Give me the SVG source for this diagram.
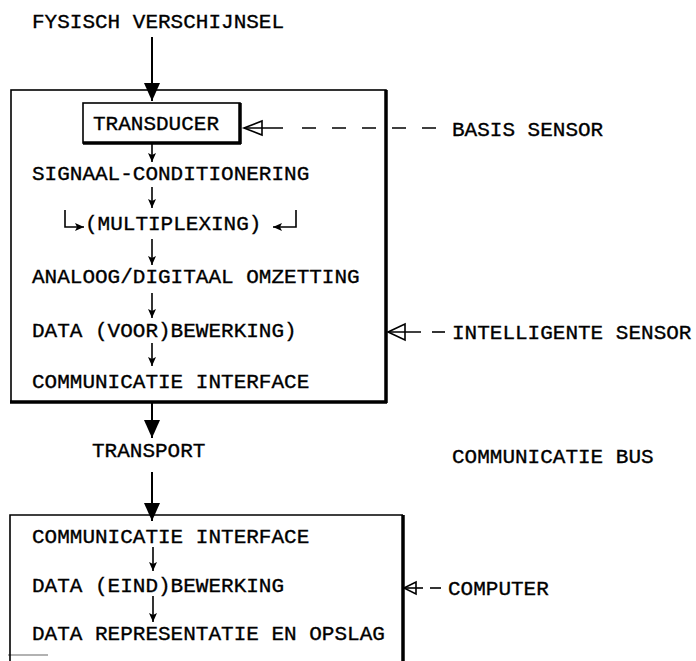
<svg xmlns="http://www.w3.org/2000/svg" width="696" height="661" viewBox="0 0 696 661">
<style>
text{font-family:"Liberation Mono","Courier New",monospace;font-size:21px;fill:#000;stroke:#000;stroke-width:0.35}
.ln{stroke:#000;stroke-width:1.6;fill:none}
.big{stroke:#000;stroke-width:2;fill:none}
.thick{stroke:#000;stroke-width:3.5;fill:none}
.dash{stroke:#000;stroke-width:1.6;fill:none;stroke-dasharray:14 16}
.hollow{stroke:#000;stroke-width:1.6;fill:none}
</style>
<defs>
<marker id="bigHead" markerUnits="userSpaceOnUse" markerWidth="18" markerHeight="16" viewBox="0 0 18 16" refX="18" refY="8" orient="auto">
<path d="M0,0 L18,8 L0,16 z" fill="#000"/>
</marker>
<marker id="smallHead" markerUnits="userSpaceOnUse" markerWidth="9" markerHeight="8" viewBox="0 0 9 8" refX="9" refY="4" orient="auto">
<path d="M0,0 L9,4 L0,8 L2,4 z" fill="#000"/>
</marker>
</defs>
<rect width="696" height="661" fill="#fff"/>

<g id="fysisch"><text x="32" y="28">FYSISCH VERSCHIJNSEL</text></g>

<g id="sensor-box">
<rect x="11" y="90" width="375" height="312" class="ln"/>
<path d="M386,90 V403 M10,402 H387" class="thick"/>
</g>

<g id="transducer">
<rect x="83" y="103" width="157" height="40" class="ln"/>
<path d="M240,103 V144 M83,143 H241" class="thick"/>
<text x="93" y="130">TRANSDUCER</text>
</g>

<g id="signaal"><text x="32" y="180">SIGNAAL-CONDITIONERING</text></g>
<g id="multiplexing"><text x="85" y="230">(MULTIPLEXING)</text></g>
<g id="analoog"><text x="32" y="283">ANALOOG/DIGITAAL OMZETTING</text></g>
<g id="data-voor"><text x="32" y="337">DATA (VOOR)BEWERKING)</text></g>
<g id="comm1"><text x="32" y="388">COMMUNICATIE INTERFACE</text></g>

<g id="transport"><text x="92" y="457">TRANSPORT</text></g>
<g id="comm-bus"><text x="452" y="463">COMMUNICATIE BUS</text></g>

<g id="computer-box">
<path d="M10,661 V515 H403" class="ln"/>
<path d="M403,515 V661" class="thick"/>
<path d="M8,655 H48" stroke="#000" stroke-width="1" opacity="0.6"/>
</g>
<g id="comm2"><text x="32" y="543">COMMUNICATIE INTERFACE</text></g>
<g id="data-eind"><text x="32" y="592">DATA (EIND)BEWERKING</text></g>
<g id="data-repr"><text x="32" y="640">DATA REPRESENTATIE EN OPSLAG</text></g>

<g id="basis-sensor"><text x="452" y="136">BASIS SENSOR</text></g>
<g id="intelligente-sensor"><text x="452" y="339">INTELLIGENTE SENSOR</text></g>
<g id="computer"><text x="448" y="595">COMPUTER</text></g>

<g id="connectors">
<line x1="152" y1="37" x2="152" y2="101" class="big" marker-end="url(#bigHead)"/>
<line x1="152" y1="403" x2="152" y2="438" class="big" marker-end="url(#bigHead)"/>
<line x1="152" y1="472" x2="152" y2="521" class="big" marker-end="url(#bigHead)"/>

<line x1="152" y1="144" x2="152" y2="162" class="ln" marker-end="url(#smallHead)"/>
<line x1="152" y1="187" x2="152" y2="208" class="ln" marker-end="url(#smallHead)"/>
<line x1="152" y1="239" x2="152" y2="265" class="ln" marker-end="url(#smallHead)"/>
<line x1="152" y1="293" x2="152" y2="318" class="ln" marker-end="url(#smallHead)"/>
<line x1="152" y1="343" x2="152" y2="366" class="ln" marker-end="url(#smallHead)"/>
<line x1="153" y1="547" x2="153" y2="571" class="ln" marker-end="url(#smallHead)"/>
<line x1="153" y1="596" x2="153" y2="622" class="ln" marker-end="url(#smallHead)"/>

<path d="M65,210 V227 H84" class="ln" marker-end="url(#smallHead)"/>
<path d="M296,210 V227 H273" class="ln" marker-end="url(#smallHead)"/>

<path d="M244,128 L262,121 L262,135 z" class="hollow"/>
<line x1="244" y1="128" x2="283" y2="128" class="ln"/>
<line x1="302" y1="128" x2="438" y2="128" class="dash"/>

<path d="M388,332 L405,324 L405,340 z" class="hollow"/>
<line x1="388" y1="332" x2="421" y2="332" class="ln"/>
<line x1="432" y1="332" x2="445" y2="332" class="ln"/>

<path d="M404,588 L416,582 L416,594 z" class="hollow"/>
<line x1="404" y1="588" x2="423" y2="588" class="ln"/>
<line x1="430" y1="588" x2="441" y2="588" class="ln"/>
</g>
</svg>
